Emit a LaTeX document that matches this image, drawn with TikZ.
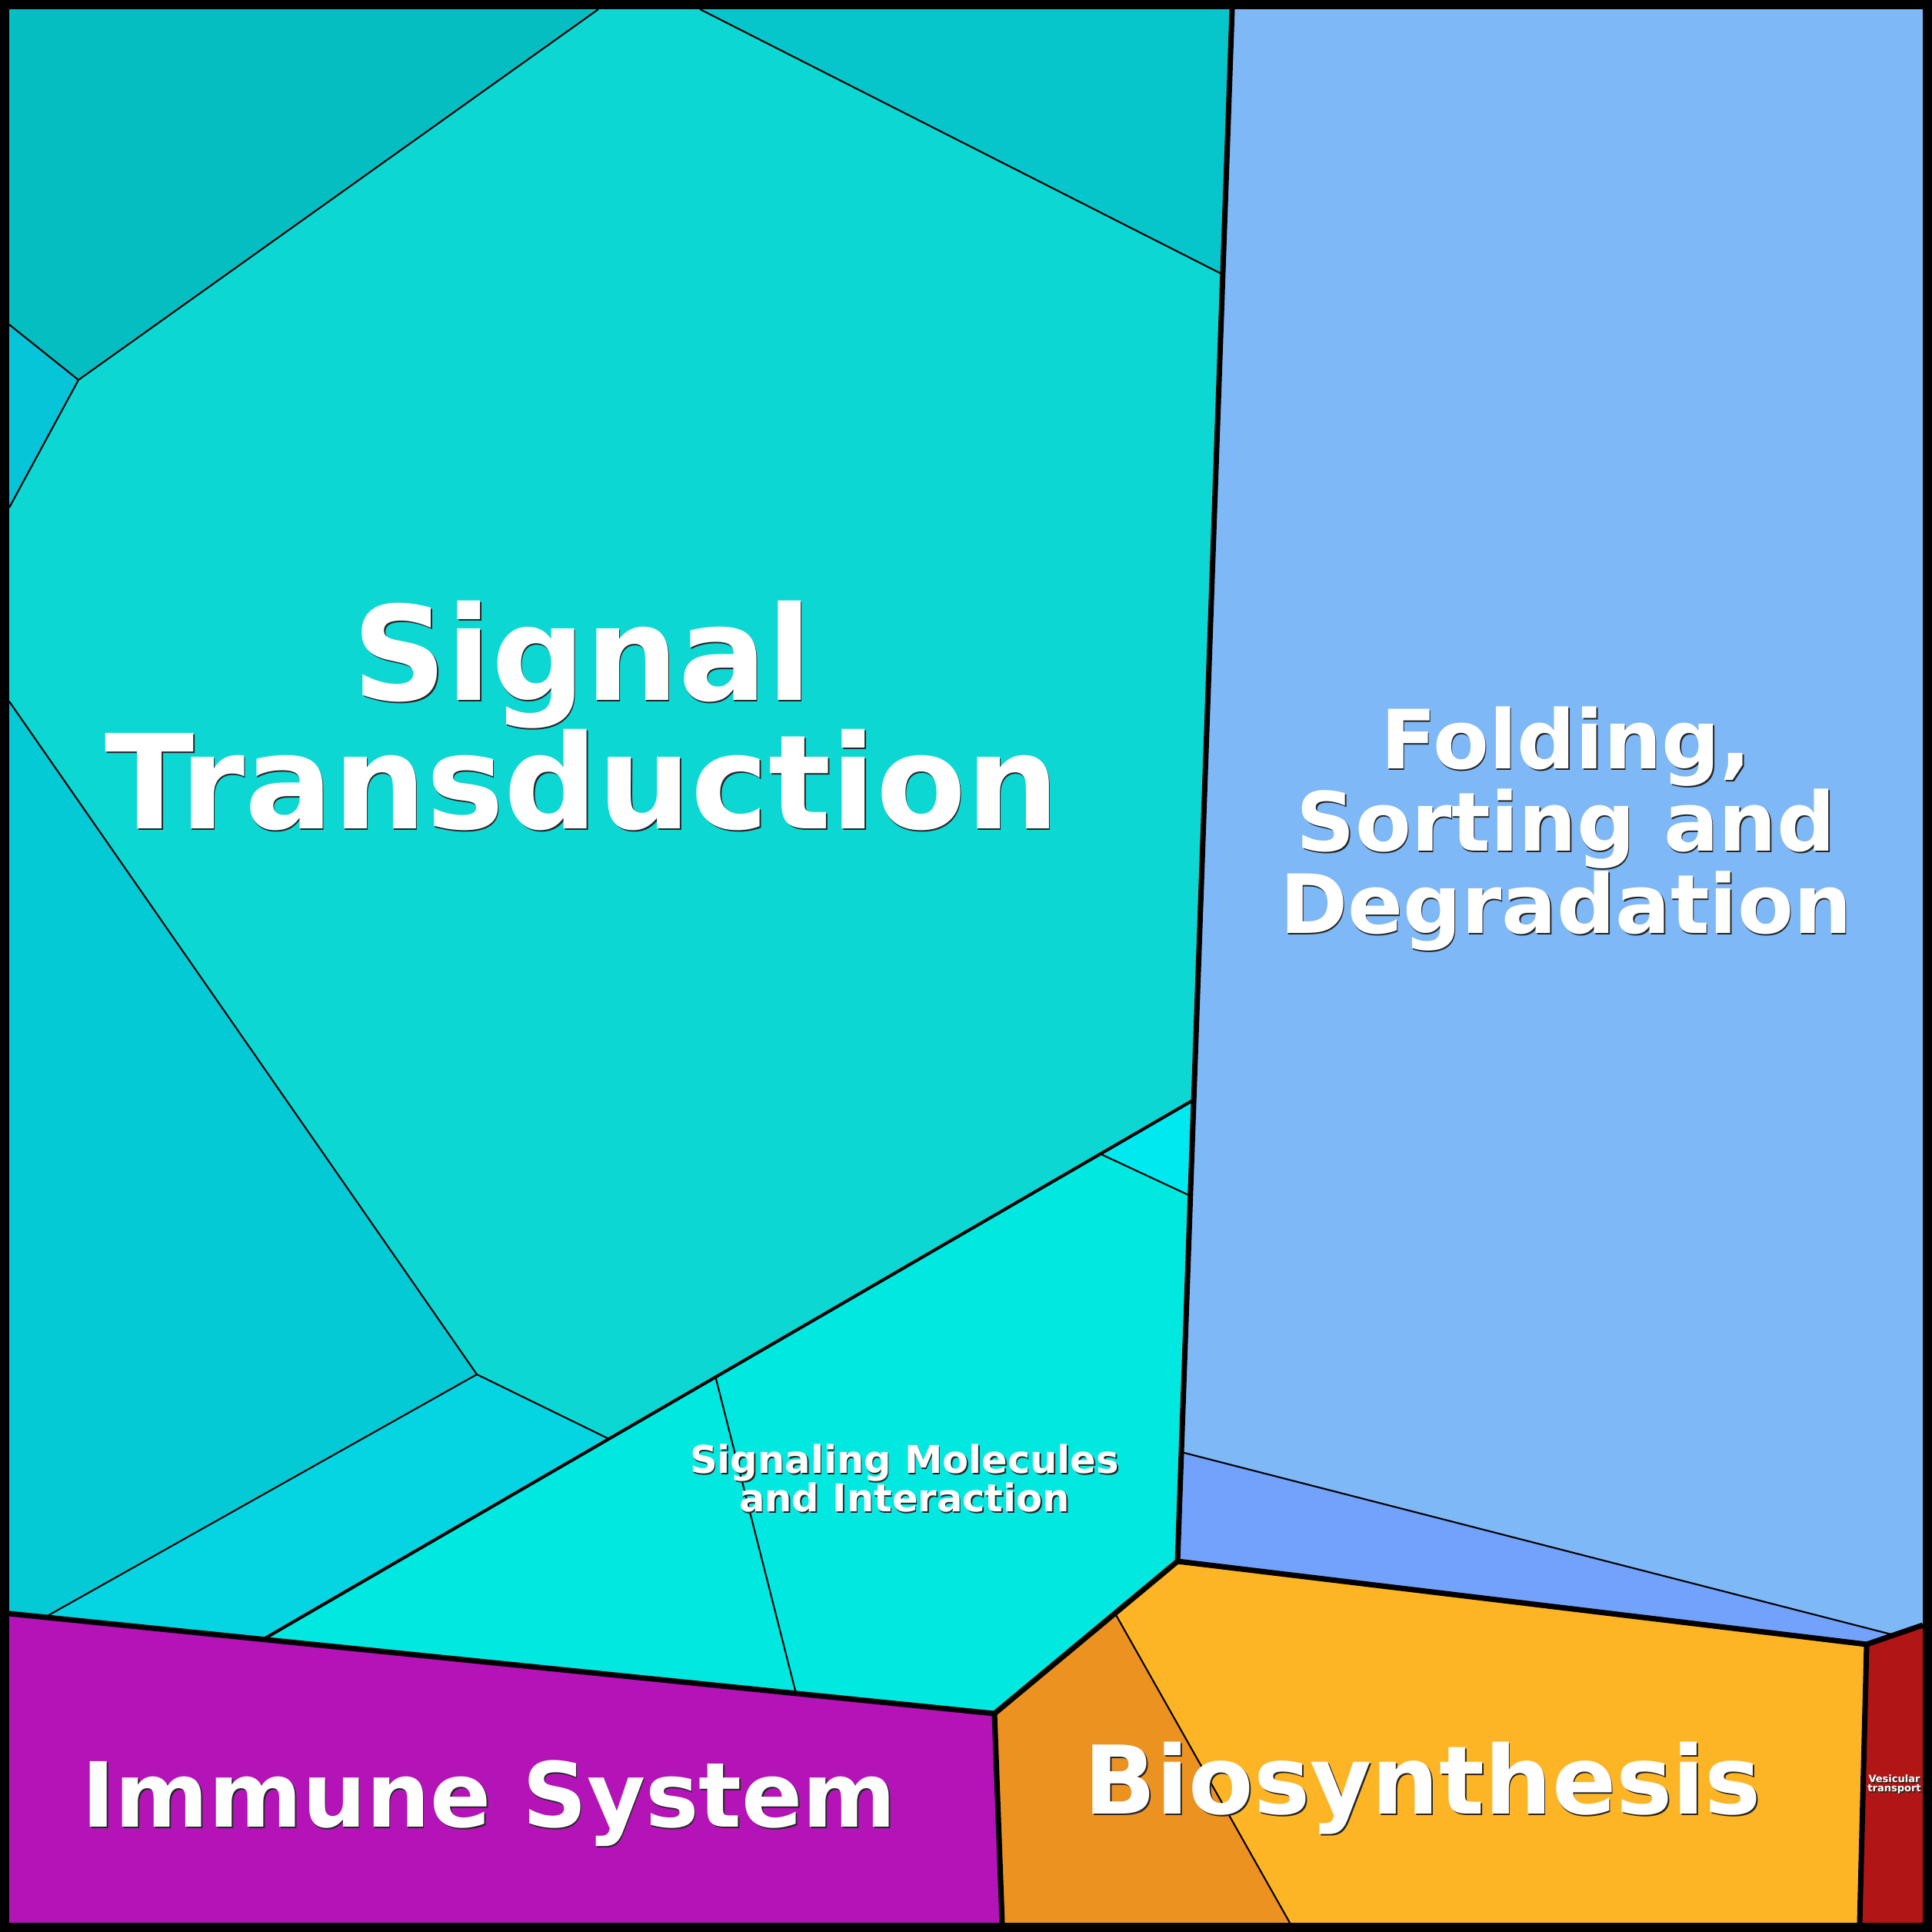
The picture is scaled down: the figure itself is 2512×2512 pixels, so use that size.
\documentclass[tikz,border=0pt]{standalone}
\usepackage{fontspec}
\setmainfont{DejaVu Sans}
\usetikzlibrary{calc}
\definecolor{stTop}{RGB}{5,190,193}
\definecolor{stMain}{RGB}{13,215,211}
\definecolor{stRight}{RGB}{6,198,203}
\definecolor{stTri}{RGB}{7,197,216}
\definecolor{stLeft}{RGB}{3,202,213}
\definecolor{stLow}{RGB}{5,213,226}
\definecolor{smTri}{RGB}{0,232,240}
\definecolor{smMain}{RGB}{0,232,223}
\definecolor{fsdMain}{RGB}{126,184,247}
\definecolor{fsdSub}{RGB}{114,162,252}
\definecolor{bioMain}{RGB}{253,181,37}
\definecolor{bioSub}{RGB}{236,146,33}
\definecolor{immune}{RGB}{180,19,184}
\definecolor{vesic}{RGB}{178,21,21}
\newcommand\fSig{\bfseries\fontsize{48.4pt}{47.5pt}\selectfont\lineskiplimit=-50pt\relax}
\newcommand\fFold{\bfseries\fontsize{30.2pt}{30.4pt}\selectfont\lineskiplimit=-50pt\relax}
\newcommand\fMol{\bfseries\fontsize{14.1pt}{14.2pt}\selectfont\lineskiplimit=-50pt\relax}
\newcommand\fImm{\bfseries\fontsize{33.2pt}{33pt}\selectfont}
\newcommand\fBio{\bfseries\fontsize{35pt}{35pt}\selectfont}
\newcommand\fVes{\bfseries\fontsize{3.7pt}{3.4pt}\selectfont\lineskiplimit=-50pt\relax}

\begin{document}
\begin{tikzpicture}[x=0.01cm, y=-0.01cm,
  lbl/.style={text=white, inner sep=0pt, align=center},
  shd/.style={text=black!85, inner sep=0pt, align=center, xshift=0.45pt, yshift=-0.45pt}]
\tikzstyle{lvlA}=[line width=2pt]
\tikzstyle{lvlB}=[line width=1.15pt]
\tikzstyle{lvlC}=[line width=0.6pt]
\useasboundingbox (0,0) rectangle (2512,2512);
% frame and cell vertices
\coordinate (TL) at (12,12); \coordinate (TR) at (2500,12);
\coordinate (BL) at (12,2500); \coordinate (BR) at (2500,2500);
\coordinate (t1) at (778,12); \coordinate (t2) at (910,12); \coordinate (t3) at (1602,12);
\coordinate (l1) at (12,422); \coordinate (l2) at (12,660); \coordinate (l3) at (12,912); \coordinate (l4) at (12,2098);
\coordinate (a) at (102,494); \coordinate (b) at (1590,357);
\coordinate (c) at (1552,1430); \coordinate (d) at (1548,1555); \coordinate (e) at (1430,1500);
\coordinate (f) at (930,1789); \coordinate (g) at (790,1870); \coordinate (h) at (620,1787);
\coordinate (n) at (58,2103); \coordinate (m) at (343,2131); \coordinate (k) at (1035,2202);
\coordinate (J1) at (1293,2228); \coordinate (J2) at (1531,2030); \coordinate (J3) at (2427,2138);
\coordinate (r1) at (2500,2113); \coordinate (p1) at (1536,1888); \coordinate (p2) at (2463,2126);
\coordinate (o1) at (1450,2098); \coordinate (o2) at (1677,2500);
\coordinate (q1) at (1303,2500); \coordinate (q2) at (2418,2500);
% cells
\fill[stTop] (TL) -- (t1) -- (a) -- (l1) -- cycle;
\fill[stMain] (t1) -- (t2) -- (b) -- (c) -- (g) -- (h) -- (l3) -- (l2) -- (a) -- cycle;
\fill[stRight] (t2) -- (t3) -- (b) -- cycle;
\fill[stTri] (l1) -- (a) -- (l2) -- cycle;
\fill[stLeft] (l3) -- (h) -- (n) -- (l4) -- cycle;
\fill[stLow] (n) -- (h) -- (g) -- (m) -- cycle;
\fill[smMain] (c) -- (J2) -- (J1) -- (m) -- cycle;
\fill[smTri] (c) -- (d) -- (e) -- cycle;
\fill[fsdMain] (t3) -- (TR) -- (r1) -- (p2) -- (p1) -- cycle;
\fill[fsdSub] (p1) -- (p2) -- (J3) -- (J2) -- cycle;
\fill[bioSub] (J1) -- (o1) -- (o2) -- (q1) -- cycle;
\fill[bioMain] (o1) -- (J2) -- (J3) -- (q2) -- (o2) -- cycle;
\fill[vesic] (J3) -- (r1) -- (BR) -- (q2) -- cycle;
\fill[immune] (l4) -- (J1) -- (q1) -- (BL) -- cycle;
% borders
\foreach \i/\j in {t1/a,a/l1,a/l2,t2/b,l3/h,h/g,h/n,e/d,f/k,p1/p2,o1/o2}{\draw[lvlC] (\i) -- (\j);}
\draw[lvlB] (c) -- (m);
\foreach \i/\j in {t3/J2,l4/J1,J1/J2,J1/q1,J2/J3,J3/r1,J3/q2}{\draw[lvlA] (\i) -- (\j);}
\draw[line width=3.41pt] (6,6) rectangle (2506,2506);
% labels
\coordinate (sig) at (757,931); \coordinate (fold) at (2036,1078);
\coordinate (mol) at (1176,1922); \coordinate (imm) at (636,2345);
\coordinate (bio) at (1850,2325); \coordinate (ves) at (2463,2320);
\foreach \p/\f/\t in {sig/\fSig/{Signal\\Transduction}, fold/\fFold/{Folding,\\Sorting and\\Degradation},
  mol/\fMol/{Signaling Molecules\\and Interaction}, imm/\fImm/{Immune System},
  bio/\fBio/{Biosynthesis}, ves/\fVes/{Vesicular\\transport}}{
  \node[shd, font=\f] (s-\p) at (\p) {\t};
  \node[lbl, font=\f] (n-\p) at (\p) {\t};}
\end{tikzpicture}
\end{document}
